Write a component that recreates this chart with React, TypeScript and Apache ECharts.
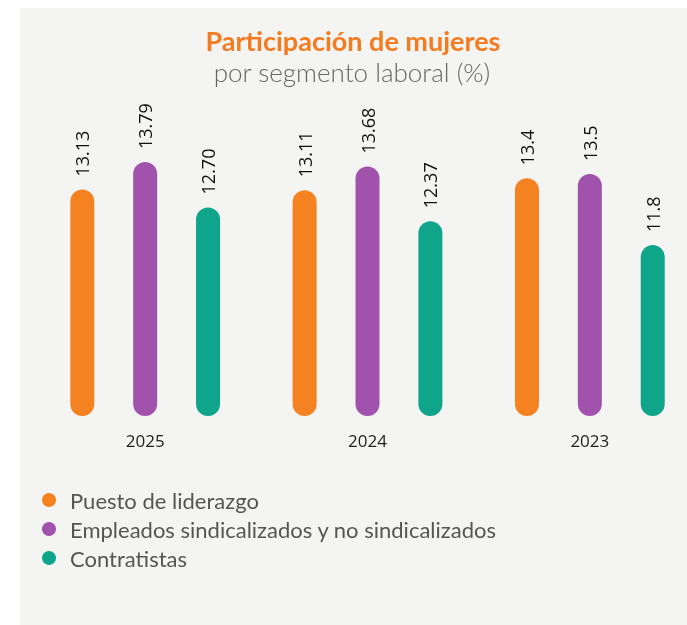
import React, { useEffect, useRef } from "react";
import * as echarts from "echarts";

const years = ["2025", "2024", "2023"];
const seriesNames = [
  "Puesto de liderazgo",
  "Empleados sindicalizados y no sindicalizados",
  "Contratistas",
];
const liderazgoLabels = ["13.13", "13.11", "13.4"];
const empleadosLabels = ["13.79", "13.68", "13.5"];
const contratistasLabels = ["12.70", "12.37", "11.8"];
const colors = ["#f58220", "#a052ad", "#0ea58b"];

const titleText = "Participación de mujeres";
const subtitleText = "por segmento laboral (%)";

export default function App() {
  const ref = useRef<HTMLDivElement>(null);
  useEffect(() => {
    if (!ref.current) return;
    const chart = echarts.init(ref.current, null, { renderer: "svg" });
    const labelSets = [liderazgoLabels, empleadosLabels, contratistasLabels];
    const series = labelSets.map((labels, i) => ({
      name: seriesNames[i],
      type: "bar",
      data: labels.map((s) => Number(s)),
      barWidth: 24,
      barGap: "162%",
      itemStyle: { color: colors[i], borderRadius: 12 },
      label: {
        show: true,
        position: "top",
        rotate: 90,
        align: "left",
        verticalAlign: "middle",
        distance: 13,
        fontSize: 18,
        fontFamily: "Open Sans",
        color: "#111",
        formatter: (p: any) => labels[p.dataIndex],
      },
    }));
    chart.setOption({
      animation: false,
      graphic: [
        {
          type: "rect",
          shape: { x: 20, y: 8, width: 667, height: 617 },
          style: { fill: "#f4f4f2" },
          z: -10,
          silent: true,
        },
        {
          type: "text",
          x: 353,
          y: 27,
          style: {
            text: titleText,
            fill: "#f47b20",
            font: "bold 27px Lato",
            textAlign: "center",
            textVerticalAlign: "top",
          },
        },
        {
          type: "text",
          x: 352,
          y: 59,
          style: {
            text: subtitleText,
            fill: "#666",
            font: "300 26px Lato",
            textAlign: "center",
            textVerticalAlign: "top",
          },
        },
      ],
      legend: {
        orient: "vertical",
        left: 37,
        top: 484,
        icon: "circle",
        itemWidth: 32,
        itemHeight: 14,
        itemGap: 7,
        data: seriesNames,
        textStyle: { fontSize: 22, fontFamily: "Lato", color: "#555" },
      },
      grid: {
        left: 34,
        width: 667,
        top: 99,
        bottom: 209,
        outerBoundsMode: "none",
        containLabel: false,
      },
      xAxis: {
        type: "category",
        data: years,
        axisLine: { show: false },
        axisTick: { show: false },
        axisLabel: {
          fontSize: 17,
          fontFamily: "Open Sans",
          color: "#222",
          margin: 16,
        },
      },
      yAxis: {
        type: "value",
        min: 7.7,
        max: 15.3,
        show: false,
        splitLine: { show: false },
      },
      series,
    });
    return () => chart.dispose();
  }, []);
  return (
    <div
      ref={ref}
      style={{ position: "fixed", left: 0, top: 0, width: 687, height: 625 }}
    />
  );
}
